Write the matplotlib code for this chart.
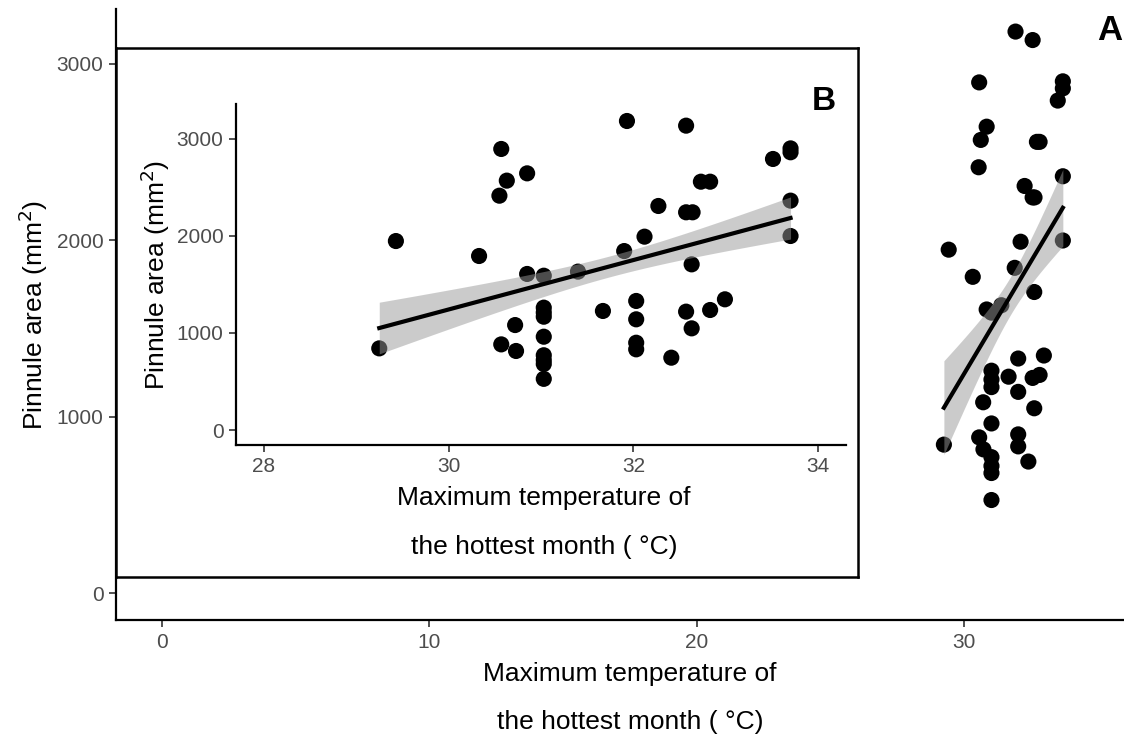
import numpy as np
import matplotlib
matplotlib.use("Agg")
import matplotlib.pyplot as plt

plt.rcParams['font.family'] = ['Liberation Sans', 'DejaVu Sans']

# Data: maximum temperature of hottest month (°C) vs pinnule area (mm²)
temp = [29.25, 29.43, 30.33, 30.57, 30.63, 30.55, 30.85, 30.85, 31.03, 30.57,
        30.72, 30.73, 31.03, 31.03, 31.03, 31.03, 31.03, 31.03, 31.03, 31.03,
        31.40,
        31.93, 32.57, 33.51, 33.70, 33.70, 32.73, 32.83, 32.27, 32.57, 32.64,
        33.70, 33.70, 32.12, 31.90, 32.63, 31.67, 32.03, 32.03, 32.03, 32.03,
        32.41, 32.57, 32.63, 32.83, 32.99]
area = [841, 1946, 1792, 2894, 2568, 2413, 2643, 1607, 1589, 882,
        1081, 814, 1260, 1210, 1167, 961, 770, 720, 680, 527,
        1631,
        3182, 3134, 2791, 2900, 2860, 2557, 2557, 2307, 2242, 2242,
        2362, 1998, 1991, 1843, 1706, 1226, 1329, 1140, 899, 831,
        745, 1219, 1047, 1236, 1346]

main_xticks = [0, 10, 20, 30]
inset_xticks = [28, 30, 32, 34]
yticks = [0, 1000, 2000, 3000]
xlabel = "Maximum temperature of\nthe hottest month ( \u00b0C)"
ylabel = "Pinnule area (mm$^2$)"

# Linear fit with a +/- 1 standard-error band
x = np.array(temp, float)
y = np.array(area, float)
n = len(x)
b1, b0 = np.polyfit(x, y, 1)
xs = np.linspace(x.min(), x.max(), 80)
fit = b0 + b1 * xs
resid = y - (b0 + b1 * x)
s = np.sqrt(np.sum(resid ** 2) / (n - 2))
sxx = np.sum((x - x.mean()) ** 2)
se = s * np.sqrt(1.0 / n + (xs - x.mean()) ** 2 / sxx)
k = 1.0
lo, hi = fit - k * se, fit + k * se

W, H = 1124, 737
fig = plt.figure(figsize=(W / 100, H / 100), dpi=100)

def px_axes(l, t, r, b, **kw):
    return fig.add_axes([l / W, (H - b) / H, (r - l) / W, (b - t) / H], **kw)

tick_col = '#4D4D4D'
lab_fs = 19
tick_fs = 15

def style(ax):
    for side in ['top', 'right']:
        ax.spines[side].set_visible(False)
    for side in ['left', 'bottom']:
        ax.spines[side].set_linewidth(1.6)
        ax.spines[side].set_color('black')
    ax.tick_params(axis='both', length=5, width=1.2, color='#333333',
                   labelcolor=tick_col, labelsize=tick_fs, pad=4)

def draw(ax):
    ax.scatter(x, y, s=135, color='black', edgecolors='none', zorder=2)
    ax.fill_between(xs, lo, hi, color='#999999', alpha=0.5, linewidth=0, zorder=3)
    ax.plot(xs, fit, color='black', lw=3, zorder=4)

# Main plot (A)
ax = px_axes(116, 9, 1127, 620)
ax.set_zorder(1)
style(ax)
draw(ax)
ax.set_xlim(-1.72, 36.1)
ax.set_ylim(-153, 3310)
ax.set_xticks(main_xticks)
ax.set_yticks(yticks)
ax.set_xlabel(xlabel, fontsize=lab_fs, linespacing=2.3)
ax.xaxis.set_label_coords((630 - 116) / (1127 - 116), -0.068, transform=ax.transAxes)
ax.xaxis.label.set_va('top')
ax.set_ylabel(ylabel, fontsize=lab_fs, labelpad=5)
fig.text(1110 / W, 1 - 30 / H, "A", fontsize=25, fontweight='bold',
         ha='center', va='center')

# Inset box
box = px_axes(116, 48, 858, 577)
box.set_zorder(2)
box.set_facecolor('white')
box.set_xticks([])
box.set_yticks([])
for sp in box.spines.values():
    sp.set_linewidth(1.8)
    sp.set_color('black')

# Inset plot (B)
ins = px_axes(236, 104, 846, 445)
ins.set_zorder(3)
ins.patch.set_alpha(0)
style(ins)
draw(ins)
ins.set_xlim(27.7, 34.3)
ins.set_ylim(-154, 3357)
ins.set_xticks(inset_xticks)
ins.set_yticks(yticks)
ins.set_xlabel(xlabel, fontsize=lab_fs, linespacing=2.3)
ins.xaxis.set_label_coords(0.505, -0.12, transform=ins.transAxes)
ins.xaxis.label.set_va('top')
ins.set_ylabel(ylabel, fontsize=lab_fs, labelpad=3)
fig.text(824 / W, 1 - 102 / H, "B", fontsize=24, fontweight='bold',
         ha='center', va='center', zorder=5)

fig.savefig("out.png", dpi=100)
